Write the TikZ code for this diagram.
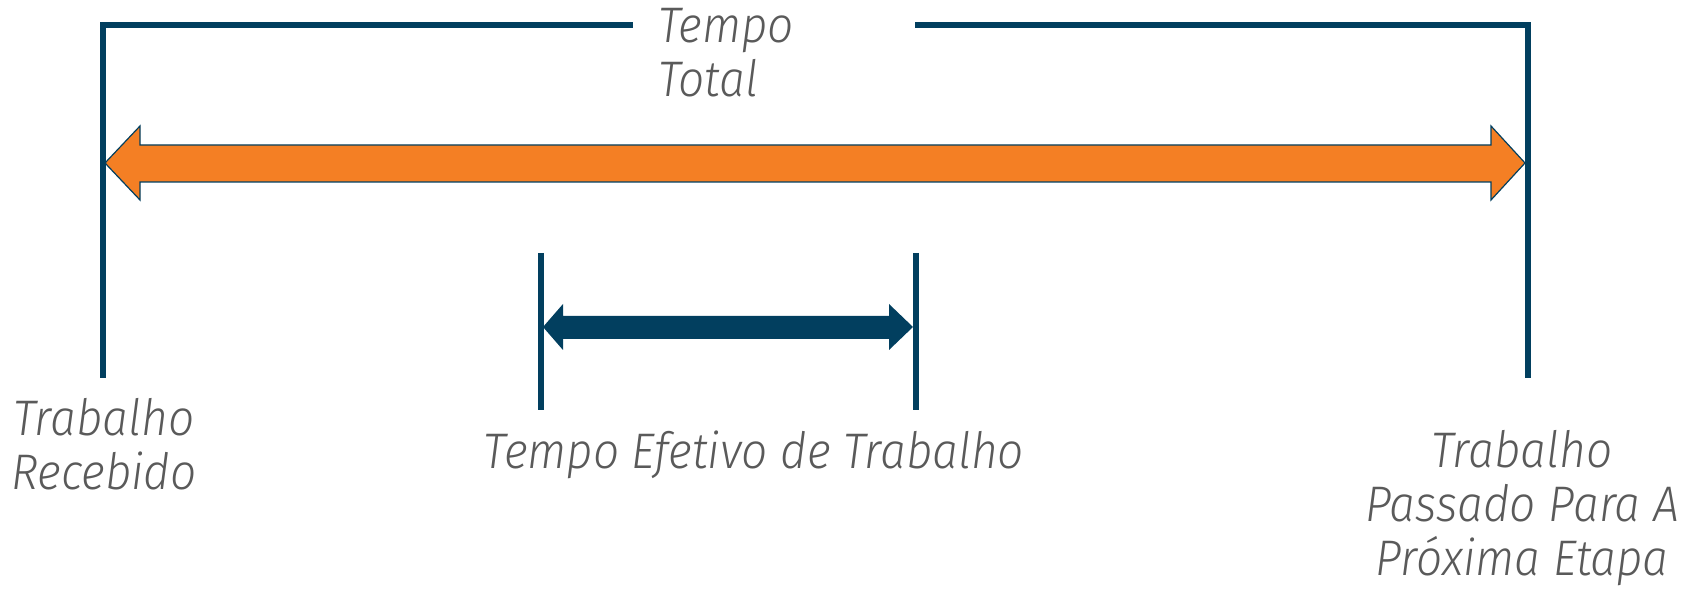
\documentclass[tikz,border=0pt]{standalone}
\usepackage{fontspec}
\newfontfamily\lblfont{Fira Sans}[UprightFont={* Light Italic},FakeStretch=0.92]
\definecolor{navy}{HTML}{023F5F}
\definecolor{orng}{HTML}{F47F24}
\definecolor{txtgray}{HTML}{5A5A5A}
\begin{document}
\begin{tikzpicture}[x=0.5pt,y=-0.5pt,
  bracket/.style={draw=navy,line width=2.7pt},
  tick/.style={draw=navy,line width=3pt},
  lbl/.style={inner sep=0pt,text=txtgray,font=\lblfont\fontsize{25}{27}\selectfont}]
\useasboundingbox (0,0) rectangle (1702,592);
% big bracket
\coordinate (lb) at (103,378);
\coordinate (lt) at (103,25);
\coordinate (le) at (633,25);
\coordinate (rs) at (915,25);
\coordinate (rt) at (1528,25);
\coordinate (rb) at (1528,378);
\draw[bracket] (lb) -- (lt) -- (le);
\draw[bracket] (rs) -- (rt) -- (rb);
% orange double arrow
\filldraw[fill=orng,draw=navy,line width=0.6pt]
  (105,163) -- (140,126) -- (140,145) -- (1491,145) -- (1491,126) -- (1525,163)
  -- (1491,200) -- (1491,182) -- (140,182) -- (140,200) -- cycle;
% small ticks
\coordinate (t1a) at (541,253);
\coordinate (t1b) at (541,410);
\coordinate (t2a) at (916,253);
\coordinate (t2b) at (916,410);
\draw[tick] (t1a) -- (t1b);
\draw[tick] (t2a) -- (t2b);
% navy double arrow
\fill[navy]
  (543,327) -- (563,304) -- (563,316) -- (889,316) -- (889,304) -- (913,327)
  -- (889,350) -- (889,339) -- (563,339) -- (563,350) -- cycle;
% labels (base anchor = baseline of last line)
\node[lbl,anchor=base west,align=left] (tt) at (658,97) {Tempo\\Total};
\node[lbl,anchor=base,align=center] (tr) at (104,490) {Trabalho\\Recebido};
\node[lbl,anchor=base] (te) at (754,469) {Tempo Efetivo de Trabalho};
\node[lbl,anchor=base,align=center] (tp) at (1522,575) {Trabalho\\Passado Para A\\Próxima Etapa};
\end{tikzpicture}
\end{document}
